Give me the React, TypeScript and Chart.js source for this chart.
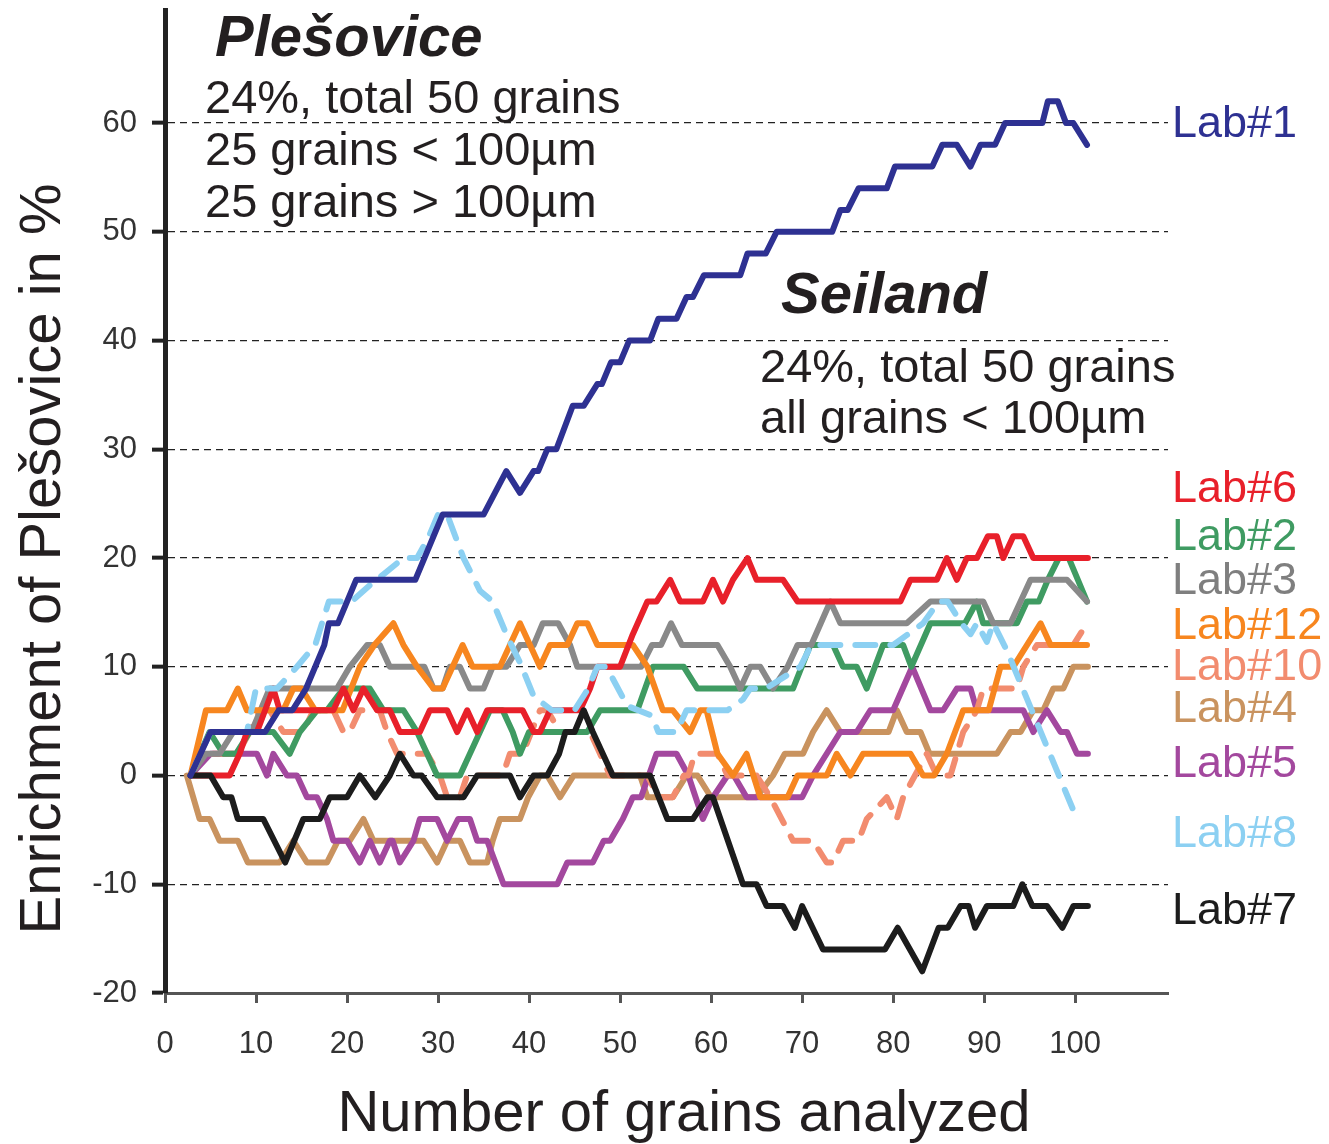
import { useEffect, useRef } from 'react';
import { Chart, registerables } from 'chart.js';

Chart.register(...registerables);

const FONT = '"Liberation Sans", Arial, Helvetica, sans-serif';

// ---------- data ----------
const xTickValues = [0, 10, 20, 30, 40, 50, 60, 70, 80, 90, 100];
const yTickValues = [-20, -10, 0, 10, 20, 30, 40, 50, 60];

type P = [number, number];

const lab1: P[] = [[2.8,0],[5,4],[11,4],[12.5,6],[14,6],[15.5,8],[16.5,10],[17.5,12],[18,14],[19,14],[20,16],[21,18],[27.5,18],[28.5,20],[29.5,22],[30.5,24],[35,24],[37.5,28],[39,26],[40.5,28],[41,28],[42,30],[43,30],[44.8,34],[46,34],[47.5,36],[48,36],[49,38],[50,38],[51,40],[53.3,40],[54.2,42],[56.2,42],[57.3,44],[58,44],[59.2,46],[63.2,46],[64,48],[66,48],[67.2,50],[73.3,50],[74.2,52],[75,52],[76.2,54],[79.3,54],[80.2,56],[84.3,56],[85.4,58],[87,58],[88.5,56],[89.6,58],[91.2,58],[92.3,60],[96.4,60],[97,62],[98.1,62],[99,60],[99.8,60],[101.3,58]];

const lab7: P[] = [[2.8,0],[5,0],[6.4,-2],[7.3,-2],[8,-4],[10.8,-4],[13.2,-8],[15.2,-4],[17,-4],[18.1,-2],[20,-2],[21.4,0],[23.1,-2],[24.7,0],[25.8,2],[27.3,0],[28.2,0],[29.9,-2],[32.8,-2],[34.3,0],[37.9,0],[39,-2],[40.5,0],[42,0],[43.3,2],[44,4],[45,4],[46,6],[47,4],[49.2,0],[53.3,0],[55.2,-4],[58,-4],[59.6,-2],[60.2,-2],[63.5,-10],[65,-10],[66.1,-12],[67.9,-12],[69.2,-14],[70,-12],[72.3,-16],[79.1,-16],[80.5,-14],[83.2,-18],[85,-14],[86,-14],[87.4,-12],[88.3,-12],[89,-14],[90.3,-12],[93.2,-12],[94.2,-10],[95.3,-12],[96.9,-12],[98.6,-14],[99.8,-12],[101.4,-12]];

const lab8: P[] = [[2.8,0],[5,4],[9,4],[10,8],[12.3,8],[14.5,10],[16.5,12],[18,16],[20.5,16],[22.5,17.5],[24,18.5],[26.2,20],[27.7,20],[29,22],[30,24],[31,24],[32.8,20],[34.6,17],[36,16],[37.6,12.8],[39,10.4],[40.5,7.3],[42.5,6],[45,6],[46.5,8],[47.5,10],[48.5,10],[50.8,6.4],[53.5,5.5],[54.2,4],[56.2,4],[57.3,6],[61.8,6],[63.5,7],[64.3,8],[66,8],[69.8,10],[71,12],[80,12],[83.3,14],[85,16],[86,16],[87.5,14],[88.5,13],[89.2,14],[90.3,12.3],[91,14],[92.5,11.5],[100.2,-4]];

const lab6: P[] = [[2.8,0],[7.1,0],[8.2,2],[9,4],[10.1,4],[11.9,8],[12.6,6],[14.8,6],[18.5,6],[19.6,8],[20.7,6],[21.8,8],[23.3,6],[24.7,6],[25.8,4],[28,4],[29.1,6],[31,6],[32.1,4],[33.2,6],[34.3,4],[35.4,6],[39.3,6],[40.5,4],[41.2,4],[42.3,6],[45.6,6],[46.7,8],[47.5,10],[50,10],[51.4,13],[53,16],[54,16],[55.5,18],[56.6,16],[59.1,16],[60.2,18],[61.3,16],[62.4,18],[64,20],[65,18],[67.9,18],[69.5,16],[80.8,16],[81.9,18],[84.8,18],[85.9,20],[87,18],[88.1,20],[89.2,20],[90.4,22],[91.4,22],[92.1,20],[93.2,22],[94.3,22],[95.4,20],[101.4,20]];

const lab12: P[] = [[2.8,0],[4.5,6],[6.8,6],[8,8],[9,6],[13,6],[14.1,8],[15,8],[16.5,6],[19.5,6],[21.4,10],[23,12],[25.1,14],[26.2,12],[27.7,10],[29.5,8],[30.5,8],[31.6,10],[32.7,12],[33.8,10],[36.8,10],[37.9,12],[39,14],[40.1,12],[41.2,10],[42.3,12],[44.2,12],[45.3,14],[46.4,14],[47.5,12],[51.4,12],[53,10],[54.7,6],[55.8,6],[57.7,4],[58.8,6],[59.5,6],[60.7,2],[62.4,0],[63.9,2],[65.4,-2],[68.4,-2],[69.5,0],[72.7,0],[73.8,2],[75.3,0],[76.7,2],[81.9,2],[83.3,0],[84.5,0],[85.9,2],[87.7,6],[90.5,6],[91.8,10],[93.2,10],[94.7,12],[96.2,14],[97.3,12],[101.3,12]];

const lab3: P[] = [[2.8,0],[4.5,2],[6,2],[7.5,4],[9.5,4],[10.5,6],[11.5,8],[18.9,8],[20.3,10],[22.2,12],[23.6,12],[24.7,10],[28.5,10],[29.5,8],[30.5,8],[31.3,10],[32.4,10],[33.5,8],[35,8],[36,10],[37.5,10],[39,12],[40.5,12],[41.5,14],[43.2,14],[44.5,12],[45.3,10],[52.3,10],[53.5,12],[54.5,12],[55.6,14],[56.8,12],[60.7,12],[62.1,10],[63.2,8],[64.3,10],[65.4,10],[66.8,8],[68.4,10],[69.5,12],[71,12],[73.1,16],[74.2,14],[81.5,14],[84.1,16],[89.9,16],[91,14],[92.9,14],[95.1,18],[99.1,18],[101.3,16]];

const lab2: P[] = [[2.8,0],[4.9,4],[6.4,2],[7.8,2],[9.3,4],[11.9,4],[13.7,2],[14.8,4],[16.7,6],[17.8,6],[19.6,8],[22.5,8],[24,6],[26.2,6],[27.7,4],[28.8,2],[29.9,0],[32.4,0],[33.5,2],[34.6,4],[35.7,6],[37.1,6],[38.2,4],[39,2],[40,4],[46.4,4],[47.8,6],[51.9,6],[53.6,10],[57,10],[58.5,8],[69,8],[70.9,12],[73.4,12],[74.5,10],[76,10],[77.1,8],[78.9,12],[81.1,12],[82,10],[84.1,14],[87.9,14],[89.2,16],[89.9,14],[93.6,14],[94.7,16],[96,16],[97,18],[98.2,20],[99.3,20],[101.3,16]];

const lab10: P[] = [[2.8,0],[4.2,2],[8,2],[9.3,4],[10.4,6],[11.5,6],[13,4],[15.2,4],[16.3,6],[18.5,6],[19.6,4],[20.3,4],[21.4,6],[23.6,6],[24.4,4],[25.5,2],[28.8,2],[30.2,0],[31,-2],[32.4,-2],[33.2,0],[37.1,0],[37.9,2],[39.3,2],[41.2,6],[42,6],[43.4,4],[46.7,4],[47.8,2],[48.9,0],[53,0],[54.2,-2],[55.8,-2],[57,0],[57.5,0],[58.2,2],[60.7,2],[61.8,0],[65,0],[66.5,-2],[69,-6],[71.2,-6],[72.7,-8],[73.4,-8],[74.5,-6],[76.2,-6],[77.1,-4],[79.3,-2],[80.4,-4],[81.1,-2],[82.4,0],[83.7,2],[84.8,0],[86.3,0],[87.7,4],[89.2,6],[89.9,8],[93.6,8],[94.3,10],[95.8,12],[99.8,12],[101.3,14]];

const lab5: P[] = [[2.8,0],[5,2],[10.1,2],[11.2,0],[11.9,2],[13.4,0],[14.5,0],[15.6,-2],[16.7,-2],[17.8,-4],[18.5,-6],[20,-6],[21.4,-8],[22.5,-6],[23.6,-8],[24.7,-6],[25,-6],[25.8,-8],[27.3,-6],[28,-4],[29.9,-4],[31,-6],[32.2,-4],[33.5,-4],[34.3,-6],[35.4,-6],[37.2,-10],[43.1,-10],[44.2,-8],[47,-8],[48.2,-6],[48.9,-6],[50.3,-4],[51.4,-2],[52.3,-2],[54,2],[56.2,2],[57.5,0],[59.1,-4],[60.2,-2],[61.8,0],[62.5,0],[63.9,-2],[70,-2],[71.2,0],[72.7,2],[74.2,4],[76,4],[77.5,6],[80,6],[82.1,10],[84.1,6],[85.5,6],[87,8],[88.5,8],[89.2,6],[94.3,6],[95.4,4],[96.9,6],[98.4,4],[99.1,4],[100.2,2],[101.4,2]];

const lab4: P[] = [[2.4,0],[3.8,-4],[4.9,-4],[6,-6],[8,-6],[9.1,-8],[12.6,-8],[14.1,-6],[15.6,-8],[17.8,-8],[19,-6],[20.3,-6],[21.8,-4],[22.9,-6],[28.4,-6],[29.9,-8],[31,-6],[32.4,-6],[33.5,-8],[35.4,-8],[36,-6],[36.8,-4],[39,-4],[39.9,-2],[41.2,0],[42,0],[43.4,-2],[44.9,0],[52.2,0],[53,-2],[55.8,-2],[57.3,0],[58.5,0],[60,-2],[65,-2],[66.8,0],[68.1,2],[70.1,2],[71.2,4],[72.7,6],[74.2,4],[79.5,4],[80.4,6],[81.5,4],[83,4],[84,2],[91.4,2],[92.9,4],[94,4],[95.4,6],[96.5,6],[97.6,8],[98.7,8],[99.8,10],[101.4,10]];

// series in drawing priority (first = on top)
const seriesNames = ['Lab#1', 'Lab#7', 'Lab#8', 'Lab#6', 'Lab#12', 'Lab#3', 'Lab#2', 'Lab#10', 'Lab#5', 'Lab#4'];
const seriesData = [lab1, lab7, lab8, lab6, lab12, lab3, lab2, lab10, lab5, lab4];
const seriesColors = ['#2E3192', '#1C1C1C', '#8CD0F2', '#E8202A', '#F7861F', '#898989', '#3F9B62', '#F28C6F', '#A3489E', '#C9935F'];
const seriesDashed = [false, false, true, false, false, false, false, true, false, false];

// right-hand labels (top to bottom)
const labelNames = ['Lab#1', 'Lab#6', 'Lab#2', 'Lab#3', 'Lab#12', 'Lab#10', 'Lab#4', 'Lab#5', 'Lab#8', 'Lab#7'];
const labelColors = ['#2E3192', '#E8202A', '#3F9B62', '#7F7F7F', '#F7861F', '#F28C6F', '#C9935F', '#A3489E', '#8CD0F2', '#1C1C1C'];

// ---------- layout (pixels) ----------
const labelLayoutY = [125, 490, 538, 582, 627, 668, 710, 765, 835, 912];
const labelLayoutX = 1172;

const annotationLayout = [
  { text: 'Plešovice', x: 215, y: 56, font: `italic bold 58px ${FONT}` },
  { text: '24%, total 50 grains', x: 205, y: 113, font: `47px ${FONT}` },
  { text: '25 grains < 100µm', x: 205, y: 165, font: `47px ${FONT}` },
  { text: '25 grains > 100µm', x: 205, y: 217, font: `47px ${FONT}` },
  { text: 'Seiland', x: 781, y: 313, font: `italic bold 58px ${FONT}` },
  { text: '24%, total 50 grains', x: 760, y: 382, font: `47px ${FONT}` },
  { text: 'all grains < 100µm', x: 760, y: 433, font: `47px ${FONT}` },
];

const textPlugin = {
  id: 'textOverlay',
  afterDraw(chart: any) {
    const ctx = chart.ctx as CanvasRenderingContext2D;
    ctx.save();
    ctx.fillStyle = '#231F20';
    ctx.textAlign = 'left';
    ctx.textBaseline = 'alphabetic';
    for (const a of annotationLayout) {
      ctx.font = a.font;
      ctx.fillText(a.text, a.x, a.y);
    }
    ctx.font = `45px ${FONT}`;
    ctx.textBaseline = 'middle';
    labelNames.forEach((n, i) => {
      ctx.fillStyle = labelColors[i];
      ctx.fillText(n, labelLayoutX, labelLayoutY[i]);
    });
    // axis titles
    ctx.fillStyle = '#231F20';
    ctx.font = `58px ${FONT}`;
    ctx.textAlign = 'center';
    ctx.textBaseline = 'alphabetic';
    ctx.fillText('Number of grains analyzed', 684, 1131);
    ctx.translate(60, 559);
    ctx.rotate(-Math.PI / 2);
    ctx.fillText('Enrichment of Plešovice in %', 0, 0);
    ctx.restore();
  },
};

export default function App() {
  const ref = useRef<HTMLCanvasElement | null>(null);

  useEffect(() => {
    if (!ref.current) return;
    const datasets = seriesData.map((pts, i) => ({
      label: seriesNames[i],
      data: pts.map(([x, y]) => ({ x, y })),
      borderColor: seriesColors[i],
      backgroundColor: seriesColors[i],
      borderWidth: 6,
      pointRadius: 0,
      tension: 0,
      fill: false,
      borderDash: seriesDashed[i] ? [20, 15] : [],
      borderCapStyle: 'round' as const,
      borderJoinStyle: 'round' as const,
    }));

    const chart = new Chart(ref.current, {
      type: 'line',
      data: { datasets },
      options: {
        animation: false,
        responsive: false,
        devicePixelRatio: 1,
        layout: { padding: { left: 0, right: 161, top: 10, bottom: 0 } },
        plugins: { legend: { display: false }, tooltip: { enabled: false } },
        scales: {
          x: {
            type: 'linear',
            min: 0,
            max: 110.2,
            afterFit: (s: any) => { s.height = 151; s.paddingLeft = 0; s.paddingRight = 0; },
            afterBuildTicks: (s: any) => { s.ticks = xTickValues.map((v) => ({ value: v })); },
            ticks: { font: { family: FONT, size: 31 }, color: '#333', padding: 23, maxRotation: 0 },
            grid: { drawOnChartArea: false, drawTicks: true, tickLength: 10, tickWidth: 3, tickColor: '#555' },
            border: { display: true, color: '#555', width: 3 },
          },
          y: {
            type: 'linear',
            min: -20,
            max: 70.4,
            afterFit: (s: any) => { s.width = 165; s.paddingTop = 0; s.paddingBottom = 0; },
            afterBuildTicks: (s: any) => { s.ticks = yTickValues.map((v) => ({ value: v })); },
            ticks: { font: { family: FONT, size: 31 }, color: '#333', padding: 15 },
            grid: {
              color: (c: any) => (c.tick && c.tick.value === -20 ? 'rgba(0,0,0,0)' : '#222'),
              lineWidth: 1.3,
              drawTicks: true,
              tickLength: 13,
              tickWidth: 4,
              tickColor: '#222',
            },
            border: { display: true, color: '#222', width: 5, dash: [7, 5] },
          },
        },
      },
      plugins: [textPlugin],
    });
    return () => chart.destroy();
  }, []);

  return (
    <div style={{ position: 'absolute', left: 0, top: 0, width: 1329, height: 1144, background: '#fff' }}>
      <canvas ref={ref} width={1329} height={1144} style={{ display: 'block' }} />
    </div>
  );
}
